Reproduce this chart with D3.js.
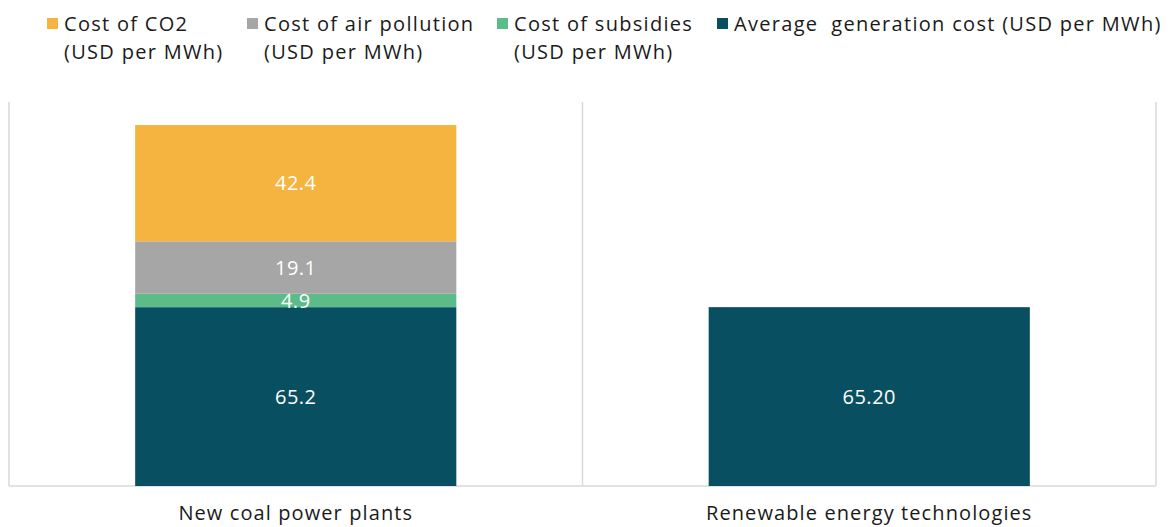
<!DOCTYPE html>
<html>
<head>
<meta charset="utf-8">
<script src="https://cdn.jsdelivr.net/npm/d3@7"></script>
<style>
  html, body { margin: 0; padding: 0; background: #ffffff; }
  svg { display: block; font-family: "Open Sans", sans-serif; }
</style>
</head>
<body>
<svg id="chart" width="1172" height="527"></svg>
<script>
const categories = ["New coal power plants", "Renewable energy technologies"];
const seriesNames = [
  "Average  generation cost (USD per MWh)",
  "Cost of subsidies (USD per MWh)",
  "Cost of air pollution (USD per MWh)",
  "Cost of CO2 (USD per MWh)"
];
const avgGenerationCost = [65.2, 65.2];
const costSubsidies = [4.9, 0];
const costAirPollution = [19.1, 0];
const costCO2 = [42.4, 0];
const valueLabels = [["65.2", "65.20"], ["4.9", ""], ["19.1", ""], ["42.4", ""]];
const legendLines = [
  ["Cost of CO2", "(USD per MWh)"],
  ["Cost of air pollution", "(USD per MWh)"],
  ["Cost of subsidies", "(USD per MWh)"],
  ["Average  generation cost (USD per MWh)"]
];
const colors = ["#094f62", "#5bbc8a", "#a6a6a6", "#f5b43f"];
const legendColors = ["#f5b43f", "#a6a6a6", "#5bbc8a", "#094f62"];

const svg = d3.select("#chart");
const margin = {left: 9, right: 16, top: 102, bottom: 41};
const W = 1172, H = 527;
const x0 = margin.left, x1 = W - margin.right;
const y0 = H - margin.bottom, y1 = margin.top;

const x = d3.scaleBand().domain(categories).range([x0, x1]).paddingInner(0).paddingOuter(0);
const barW = x.bandwidth() * 0.56;
const y = d3.scaleLinear().domain([0, 140]).range([y0, y1]);

const table = categories.map((c, i) => ({
  cat: c, i,
  s0: avgGenerationCost[i], s1: costSubsidies[i], s2: costAirPollution[i], s3: costCO2[i]
}));
const stack = d3.stack().keys(["s0", "s1", "s2", "s3"]);
const layers = stack(table);

// frame lines
const grid = svg.append("g").attr("stroke", "#d9d9d9").attr("stroke-width", 1.5);
const bounds = [x0].concat(categories.map(c => x(c) + x.bandwidth()));
bounds.forEach(bx => {
  grid.append("line").attr("x1", bx).attr("x2", bx).attr("y1", y1).attr("y2", y0);
});
grid.append("line").attr("x1", x0).attr("x2", x1).attr("y1", y0).attr("y2", y0);

// bars
layers.forEach((layer, k) => {
  const g = svg.append("g").attr("fill", colors[k]);
  layer.forEach((d, i) => {
    if (d[1] - d[0] <= 0) return;
    g.append("rect")
      .attr("x", x(categories[i]) + (x.bandwidth() - barW) / 2)
      .attr("width", barW)
      .attr("y", y(d[1]))
      .attr("height", y(d[0]) - y(d[1]));
  });
});

// value labels
layers.forEach((layer, k) => {
  layer.forEach((d, i) => {
    const t = valueLabels[k][i];
    if (!t) return;
    svg.append("text")
      .attr("x", x(categories[i]) + x.bandwidth() / 2)
      .attr("y", (y(d[0]) + y(d[1])) / 2)
      .attr("dy", "0.36em")
      .attr("text-anchor", "middle")
      .attr("fill", "#ffffff")
      .attr("font-size", 20)
      .attr("letter-spacing", 0.5)
      .text(t);
  });
});

// x axis
const xAxis = d3.axisBottom(x).tickSize(0).tickPadding(20);
const ax = svg.append("g").attr("transform", `translate(0,${y0})`).call(xAxis);
ax.select(".domain").remove();
ax.selectAll("text").attr("font-size", 20).attr("fill", "#1a1a1a")
  .attr("font-family", "'Open Sans', sans-serif").attr("letter-spacing", 1.1);

// legend
const legendX = [47, 247, 497, 717];
const lg = svg.append("g");
legendLines.forEach((lines, k) => {
  const g = lg.append("g").attr("transform", `translate(${legendX[k]},0)`);
  g.append("rect").attr("x", 0).attr("y", 18).attr("width", 11).attr("height", 11).attr("fill", legendColors[k]);
  lines.forEach((ln, j) => {
    g.append("text").attr("x", 17).attr("y", 31 + j * 27.5)
      .attr("font-size", 20).attr("fill", "#1a1a1a").attr("letter-spacing", 1.3)
      .attr("xml:space", "preserve").style("white-space", "pre")
      .text(ln);
  });
});
</script>
</body>
</html>
